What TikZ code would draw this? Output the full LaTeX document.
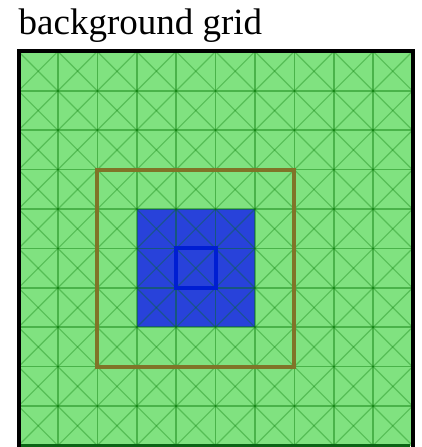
\documentclass[tikz,border=0pt]{standalone}
\usepackage{fontspec}
\setmainfont{Liberation Serif}
\begin{document}
\begin{tikzpicture}[x=39.4pt,y=39.4pt,
  gridline/.style={draw=green!45!black, draw opacity=0.42, line width=1.6pt},
  diagline/.style={draw=green!45!black, draw opacity=0.32, line width=1.2pt}]
\useasboundingbox (-18.5pt,-1.5pt) rectangle (403.5pt,445.5pt);
\definecolor{gfill}{RGB}{128,226,128}
\definecolor{bfill}{RGB}{40,66,218}
\definecolor{bline}{RGB}{0,30,210}
\definecolor{brown}{RGB}{128,116,40}
\definecolor{dkgreen}{RGB}{10,100,20}
% title
\node[anchor=base west, inner sep=0pt, font=\fontsize{37}{40}\selectfont] (title) at (0pt,410.5pt) {background grid};
% outer area
\fill[gfill] (0,0) rectangle (10,10);
% blue square
\fill[bfill] (3,3) rectangle (6,6);
% grid
\begin{scope}
\clip (0,0) rectangle (10,10);
\foreach \i in {1,...,9} {
  \path[gridline] (\i,0) -- (\i,10);
  \path[gridline] (0,\i) -- (10,\i);
}
\foreach \i in {-10,...,10} {
  \path[diagline] (\i,0) -- (\i+10,10);
}
\foreach \i in {0,...,20} {
  \path[diagline] (\i,0) -- (\i-10,10);
}
\end{scope}
% frame on top
\draw[line width=4pt] (0,-0.2) -- (0,10) -- (10,10) -- (10,-0.2);
\draw[dkgreen, line width=4pt] (0.06,0) -- (9.94,0);
% brown rectangle
\draw[brown, line width=4pt] (2,2) rectangle (7,7);
% small blue square
\draw[bline, line width=4pt] (4,4) rectangle (5,5);
\end{tikzpicture}
\end{document}
